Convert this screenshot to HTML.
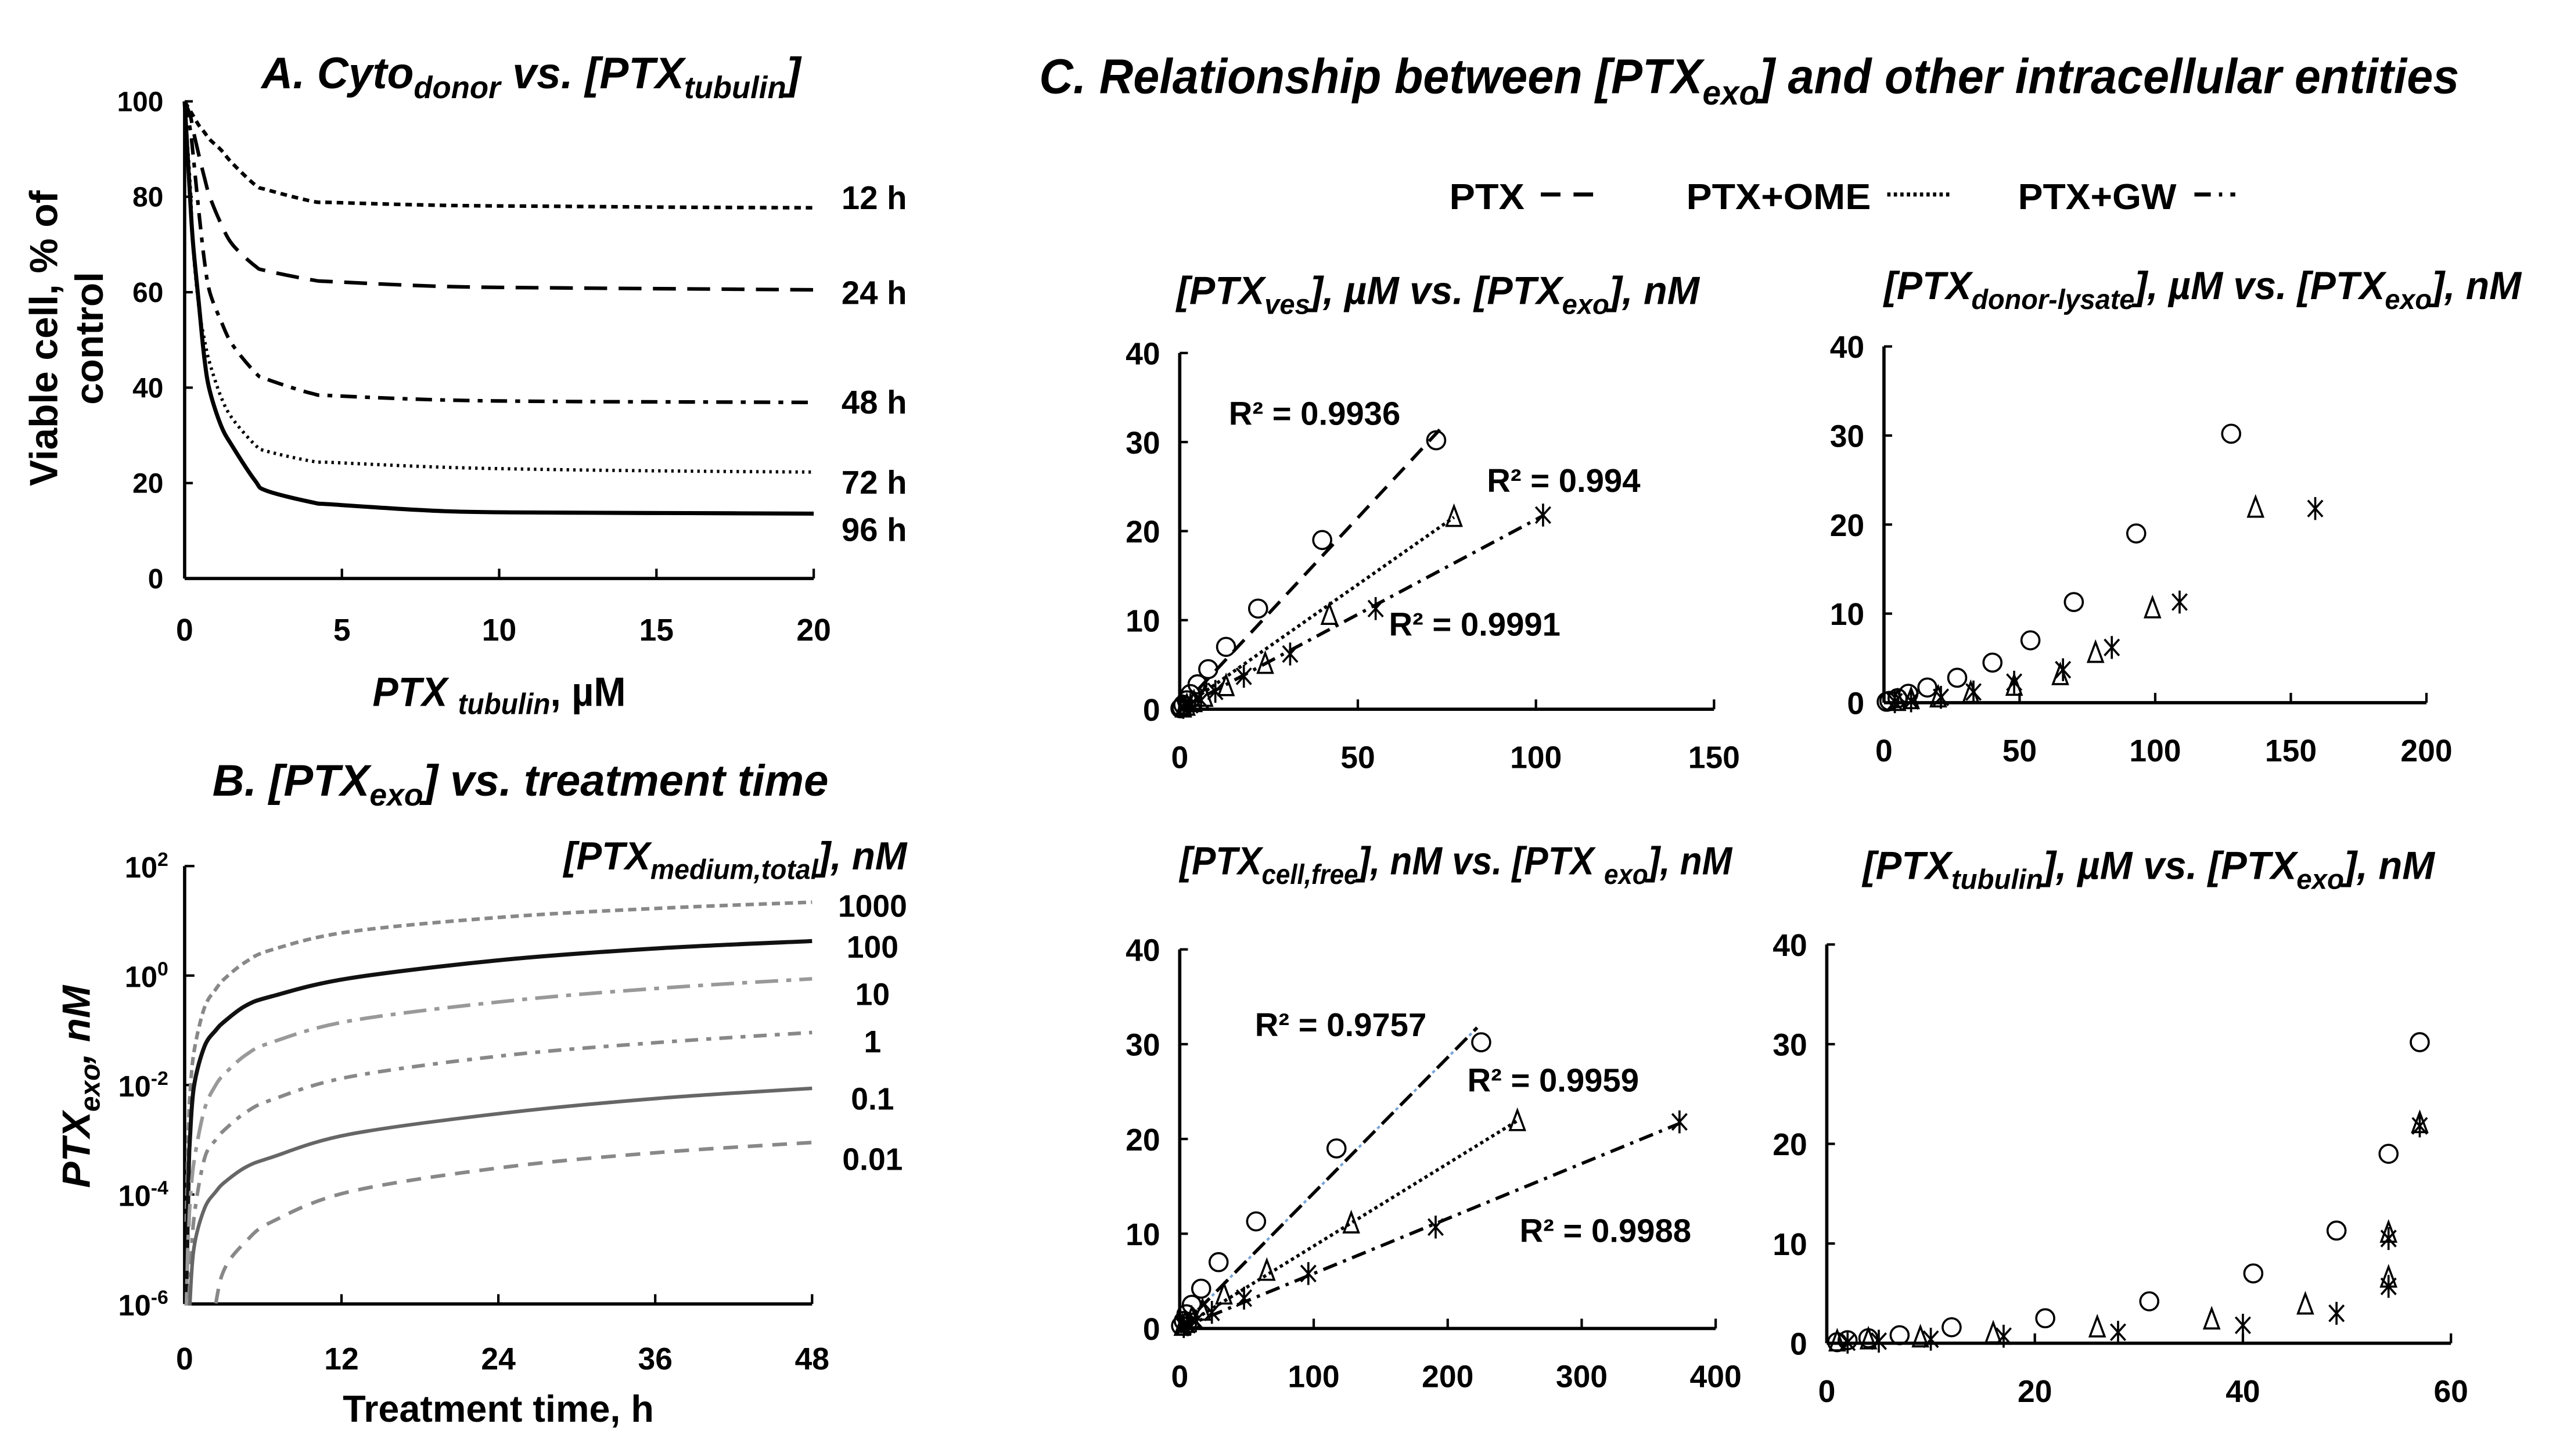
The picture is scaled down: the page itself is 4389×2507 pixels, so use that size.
<!DOCTYPE html>
<html><head><meta charset="utf-8"><style>
html,body{margin:0;padding:0;background:#fff;}
svg{display:block;}
text{font-family:"Liberation Sans",Arial,sans-serif;font-weight:bold;fill:#000;}
</style></head><body>
<svg id="fig" xmlns="http://www.w3.org/2000/svg" width="4389" height="2507" viewBox="0 0 1560 891">
<rect x="0" y="0" width="1560" height="891" fill="#fff"/>
<defs><clipPath id="clipB"><rect x="110" y="520" width="400" height="279"/></clipPath></defs>
<text x="160" y="54" font-size="27" font-style="italic" textLength="330" lengthAdjust="spacingAndGlyphs">A. Cyto<tspan dy="6" font-size="19">donor</tspan><tspan dy="-6"> vs. [PTX</tspan><tspan dy="6" font-size="19">tubulin</tspan><tspan dy="-6">]</tspan></text>
<g transform="translate(35,207) rotate(-90)"><text x="0" y="0" text-anchor="middle" font-size="24">Viable cell, % of</text><text x="0" y="28" text-anchor="middle" font-size="24">control</text></g>
<text x="228" y="432" font-size="25" textLength="155" lengthAdjust="spacingAndGlyphs"><tspan font-style="italic">PTX </tspan><tspan font-style="italic" font-size="18" dy="5">tubulin</tspan><tspan dy="-5">, µM</tspan></text>
<text x="130" y="487" font-size="27" font-style="italic" textLength="377" lengthAdjust="spacingAndGlyphs">B. [PTX<tspan dy="6" font-size="19">exo</tspan><tspan dy="-6">] vs. treatment time</tspan></text>
<text x="345" y="532" font-size="24" font-style="italic" textLength="210" lengthAdjust="spacingAndGlyphs">[PTX<tspan dy="6" font-size="17">medium,total</tspan><tspan dy="-6">], nM</tspan></text>
<text transform="translate(55,665) rotate(-90)" text-anchor="middle" font-size="24" font-style="italic">PTX<tspan dy="6" font-size="17">exo</tspan><tspan dy="-6">, nM</tspan></text>
<text x="305" y="870" text-anchor="middle" font-size="23">Treatment time, h</text>
<text x="636" y="57" font-size="30" font-style="italic" textLength="869" lengthAdjust="spacingAndGlyphs">C. Relationship between [PTX<tspan dy="7" font-size="21">exo</tspan><tspan dy="-7">] and other intracellular entities</tspan></text>
<g>
<text x="887" y="128" font-size="22" textLength="46" lengthAdjust="spacingAndGlyphs">PTX</text>
<line x1="943" y1="119" x2="980" y2="119" stroke="#000" stroke-width="2.5" stroke-dasharray="12,8"/>
<text x="1032" y="128" font-size="22" textLength="113" lengthAdjust="spacingAndGlyphs">PTX+OME</text>
<line x1="1155" y1="119" x2="1195" y2="119" stroke="#000" stroke-width="2.5" stroke-dasharray="2,2"/>
<text x="1235" y="128" font-size="22" textLength="97" lengthAdjust="spacingAndGlyphs">PTX+GW</text>
<line x1="1343" y1="119" x2="1368" y2="119" stroke="#000" stroke-width="2.5" stroke-dasharray="10,5,2,5"/>
</g>
<text x="720" y="186" font-size="24" font-style="italic" textLength="320" lengthAdjust="spacingAndGlyphs">[PTX<tspan dy="6" font-size="17">ves</tspan><tspan dy="-6">], µM vs. [PTX</tspan><tspan dy="6" font-size="17">exo</tspan><tspan dy="-6">], nM</tspan></text>
<text x="1153" y="183" font-size="24" font-style="italic" textLength="390" lengthAdjust="spacingAndGlyphs">[PTX<tspan dy="6" font-size="17">donor-lysate</tspan><tspan dy="-6">], µM vs. [PTX</tspan><tspan dy="6" font-size="17">exo</tspan><tspan dy="-6">], nM</tspan></text>
<text x="722" y="535" font-size="24" font-style="italic" textLength="338" lengthAdjust="spacingAndGlyphs">[PTX<tspan dy="6" font-size="17">cell,free</tspan><tspan dy="-6">], nM vs. [PTX </tspan><tspan dy="6" font-size="17">exo</tspan><tspan dy="-6">], nM</tspan></text>
<text x="1140" y="538" font-size="24" font-style="italic" textLength="350" lengthAdjust="spacingAndGlyphs">[PTX<tspan dy="6" font-size="17">tubulin</tspan><tspan dy="-6">], µM vs. [PTX</tspan><tspan dy="6" font-size="17">exo</tspan><tspan dy="-6">], nM</tspan></text>
<g id="marks"></g>
</svg>
<script>
// ---------- Panel A data ----------
const aX = [0,0.18,0.27,0.45,0.63,0.8,1.16,1.52,2.24,2.6,4.03,4.75,8.3,12,16,20];
const aLabels = ["12 h","24 h","48 h","72 h","96 h"];
const a12 = [100,98,97,95,93.5,92,89.8,87,82.5,81.5,79.1,78.8,78.2,78,77.8,77.7];
const a24 = [100,97,94,88.8,84,80,74.3,70,65.5,64.5,62.6,62.2,61.2,60.9,60.7,60.5];
const a48 = [100,94,88.8,77,66.5,60,53.9,49,43.2,41.8,38.8,38.3,37.4,37.1,37,36.9];
const a72 = [100,82,69.4,57,50,45.1,38,33.5,28,26.7,24.6,24.3,23.3,22.8,22.5,22.3];
const a96 = [100,79,70,57.8,46,39.3,32,27.7,20.5,18.4,16,15.5,14.1,13.8,13.7,13.6];
const aYTicks = [0,20,40,60,80,100];
const aXTicks = [0,5,10,15,20];
// ---------- Panel B data ----------
const bT = [0.12,0.24,0.32,0.4,0.71,1.51,2.38,3.09,4.68,6.66,12.6,24.5,36.4,48];
const bLabels = ["1000","100","10","1","0.1","0.01"];
const b1000 = [-4.5,-3.2,-2.6,-2.2,-1.4,-0.59,-0.25,-0.05,0.25,0.47,0.8,1.07,1.23,1.34];
const b100 = [-6,-4.4,-3.5,-3.0,-2.03,-1.3,-1.0,-0.83,-0.55,-0.38,-0.05,0.29,0.5,0.63];
const b10 = [-6.2,-5.0,-4.6,-4.2,-3.41,-2.45,-2.0,-1.79,-1.45,-1.22,-0.83,-0.47,-0.23,-0.06];
const b1 = [-7,-7,-6,-5.6,-4.44,-3.35,-3.0,-2.81,-2.5,-2.27,-1.85,-1.46,-1.22,-1.04];
const b01 = [-7,-7,-6.5,-6,-4.98,-4.26,-3.95,-3.77,-3.5,-3.32,-2.9,-2.51,-2.24,-2.06];
const b001 = [-8,-8,-8,-8,-8,-7.5,-6,-5.34,-4.86,-4.5,-3.95,-3.5,-3.23,-3.05];
const bYTicks = [2,0,-2,-4,-6];
const bXTicks = [0,12,24,36,48];
// ---------- Panel C data ----------
const c1PtxX = [72,40,22,13,8,5,3,2,1,0.5,0.2];
const c1PtxY = [30.2,19,11.3,7,4.5,2.8,1.7,1,0.5,0.2,0.1];
const c1OmeX = [77,42,24,13,7,4,2,1];
const c1OmeY = [21.5,10.5,5,2.5,1.3,0.7,0.3,0.1];
const c1GwX = [102,55,31,18,10,6,3,1];
const c1GwY = [21.8,11.3,6.2,3.7,2,1,0.5,0.2];
const c1TrendSlope = [0.43,0.28,0.213];
const c1TrendEnd = [73,77,102];
const c1R2 = ["R² = 0.9936","R² = 0.994","R² = 0.9991"];
const c2PtxX = [128,93,70,54,40,27,16,9,5,2,1];
const c2PtxY = [30.2,19,11.3,7,4.5,2.8,1.7,1,0.5,0.2,0.1];
const c2OmeX = [137,99,78,65,48,32,20,10,5];
const c2OmeY = [21.8,10.5,5.5,3,1.8,1,0.5,0.3,0.1];
const c2GwX = [159,109,84,66,48,33,21,10,4];
const c2GwY = [21.8,11.3,6.2,3.7,2.3,1.2,0.6,0.2,0.1];
const c3PtxX = [225,117,57,29,16,9,5,3,1];
const c3PtxY = [30.2,19,11.3,7,4.2,2.5,1.5,0.8,0.3];
const c3OmeX = [252,128,65,33,17,9,4,2];
const c3OmeY = [21.8,11,6,3.5,1.8,1,0.5,0.2];
const c3GwX = [373,191,96,48,24,12,6,3];
const c3GwY = [21.8,10.7,5.8,3.2,1.7,0.8,0.4,0.2];
const c3TrendSlope = [0.143,0.087,0.058];
const c3TrendEnd = [222,252,373];
const c3R2 = ["R² = 0.9757","R² = 0.9959","R² = 0.9988"];
const c4PtxX = [57,54,49,41,31,21,12,7,4,2,1];
const c4PtxY = [30.2,19,11.3,7,4.2,2.5,1.6,0.8,0.5,0.3,0.1];
const c4OmeX = [57,54,54,46,37,26,16,9,4,1];
const c4OmeY = [22,11,6.5,3.8,2.3,1.5,0.9,0.5,0.3,0.1];
const c4GwX = [57,54,54,49,40,28,17,10,5,2];
const c4GwY = [21.8,10.5,5.7,3,1.8,1.1,0.7,0.4,0.2,0.1];
const cYTicks = [0,10,20,30,40];
const c1XTicks = [0,50,100,150];
const c2XTicks = [0,50,100,150,200];
const c3XTicks = [0,100,200,300,400];
const c4XTicks = [0,20,40,60];

const NS = "http://www.w3.org/2000/svg";
const root = document.getElementById("marks");
function el(tag, attrs, parent){ const e=document.createElementNS(NS,tag); for(const k in attrs) e.setAttribute(k,attrs[k]); (parent||root).appendChild(e); return e; }
function txt(x,y,s,size,anchor,parent){ const t=el("text",{x:x,y:y,"font-size":size,"text-anchor":anchor||"start"},parent); t.textContent=s; return t; }
function smooth(pts){
  let d = "M"+pts[0][0].toFixed(2)+","+pts[0][1].toFixed(2);
  for(let i=0;i<pts.length-1;i++){
    const p0=pts[Math.max(0,i-1)], p1=pts[i], p2=pts[i+1], p3=pts[Math.min(pts.length-1,i+2)];
    const c1=[p1[0]+(p2[0]-p0[0])/6, p1[1]+(p2[1]-p0[1])/6];
    const c2=[p2[0]-(p3[0]-p1[0])/6, p2[1]-(p3[1]-p1[1])/6];
    d += " C"+c1[0].toFixed(2)+","+c1[1].toFixed(2)+" "+c2[0].toFixed(2)+","+c2[1].toFixed(2)+" "+p2[0].toFixed(2)+","+p2[1].toFixed(2);
  }
  return d;
}

// ===== Panel A =====
const xA = v => 113 + v/20*385;
const yA = v => 354 - v/100*292;
let ax = el("line",{x1:113,y1:354,x2:498,y2:354,stroke:"#000","stroke-width":2});


let ay = el("line",{x1:113,y1:62,x2:113,y2:354,stroke:"#000","stroke-width":2});


aYTicks.forEach(v=>{
  const t = txt(100, yA(v)+6, String(v), 17, "end");
  
  
  const m = el("line",{x1:113,y1:yA(v),x2:118,y2:yA(v),stroke:"#000","stroke-width":1.5});
  
  
});
aXTicks.forEach(v=>{
  const t = txt(xA(v), 392, String(v), 19, "middle");
  
  
  const m = el("line",{x1:xA(v),y1:354,x2:xA(v),y2:348,stroke:"#000","stroke-width":1.5});
  
  
});
const aSeries = [a12,a24,a48,a72,a96];
const aDash = ["4,3","14,7","10,5,3,5","1.5,2.5",""];
const aWidth = [2.2,2.2,2.2,2,2.5];
const aLabelY = [128,186,253,302,331];
aSeries.forEach((s,i)=>{
  const pts = aX.map((x,j)=>[xA(x), yA(s[j])]);
  const p = el("path",{d:smooth(pts),fill:"none",stroke:"#000","stroke-width":aWidth[i],"stroke-dasharray":aDash[i],"stroke-linejoin":"round"});
  
  
  const t = txt(515, aLabelY[i], aLabels[i], 20, "start");
  
  
});

// ===== Panel B =====
const xB = t => 113 + t/48*384;
const yB = lg => 530 + (2-lg)*33.5;
let bx = el("line",{x1:113,y1:798,x2:497,y2:798,stroke:"#000","stroke-width":2});


let by = el("line",{x1:113,y1:530,x2:113,y2:798,stroke:"#000","stroke-width":2});


bYTicks.forEach(v=>{
  const t = el("text",{x:103,y:yB(v)+7,"font-size":18,"text-anchor":"end"});
  t.innerHTML = '10<tspan dy="-7" font-size="12">'+v+'</tspan>';
  
  
  const m = el("line",{x1:113,y1:yB(v),x2:119,y2:yB(v),stroke:"#000","stroke-width":1.5});
  
  
});
bXTicks.forEach(v=>{
  const t = txt(xB(v), 838, String(v), 19, "middle");
  
  
  const m = el("line",{x1:xB(v),y1:798,x2:xB(v),y2:792,stroke:"#000","stroke-width":1.5});
  
  
});
const bSeries = [b1000,b100,b10,b1,b01,b001];
const bColor = ["#888","#111","#999","#888","#666","#888"];
const bDash = ["5,3","","14,5,3,5","8,5,3,5","","9,6"];
const bWidth = [2.2,2.5,2.2,2.2,2.2,2.2];
const bLabelY = [561,586,615,644,679,716];
const bg = el("g",{"clip-path":"url(#clipB)"});


bSeries.forEach((s,i)=>{
  const pts = bT.map((t,j)=>[xB(t), yB(s[j])]);
  const p = el("path",{d:smooth(pts),fill:"none",stroke:bColor[i],"stroke-width":bWidth[i],"stroke-dasharray":bDash[i],"stroke-linejoin":"round"},bg);
  
  
  const t = txt(534, bLabelY[i], bLabels[i], 19, "middle");
  
  
});

// ===== Panel C =====
function circle(g,x,y){ const c=el("circle",{cx:x,cy:y,r:5.5,fill:"none",stroke:"#000","stroke-width":1.3},g);   }
function tri(g,x,y){ const p=el("polygon",{points:`${x},${y-7} ${x-4.5},${y+5} ${x+4.5},${y+5}`,fill:"none",stroke:"#000","stroke-width":1.3},g);   }
function star(g,x,y){ const p=el("path",{d:`M${x},${y-7}V${y+7}M${x-4.5},${y-5}L${x+4.5},${y+5}M${x+4.5},${y-5}L${x-4.5},${y+5}`,fill:"none",stroke:"#000","stroke-width":1.3},g);   }

function subplot(cfg){
  const g = el("g",{});
  
  
  const X = v => cfg.x0 + v*cfg.sx;
  const Y = v => cfg.y0 - v*cfg.sy;
  const xa = el("line",{x1:cfg.x0,y1:cfg.y0,x2:X(cfg.xt[cfg.xt.length-1]),y2:cfg.y0,stroke:"#000","stroke-width":2},g);
  
  
  const ya = el("line",{x1:cfg.x0,y1:Y(40),x2:cfg.x0,y2:cfg.y0,stroke:"#000","stroke-width":2},g);
  
  
  cYTicks.forEach(v=>{
    const t = txt(cfg.x0-12, Y(v)+7, String(v), 19, "end", g);
    
    
    const m = el("line",{x1:cfg.x0,y1:Y(v),x2:cfg.x0+5,y2:Y(v),stroke:"#000","stroke-width":1.5},g);
    
    
  });
  cfg.xt.forEach(v=>{
    const t = txt(X(v), cfg.y0+36, String(v), 19, "middle", g);
    
    
    const m = el("line",{x1:X(v),y1:cfg.y0,x2:X(v),y2:cfg.y0-6,stroke:"#000","stroke-width":1.5},g);
    
    
  });
  if(cfg.slope){
    const dashes = ["10,6","2,2","9,4,2,4"];
    const names = ["ptx-trendline","ptx-ome-trendline","ptx-gw-trendline"];
    cfg.slope.forEach((s,i)=>{
      if(i===0 && cfg.blue){
        const b = el("line",{x1:X(0),y1:Y(0),x2:X(cfg.tend[i]),y2:Y(s*cfg.tend[i]),stroke:"#7aa6d8","stroke-width":1.5,"stroke-dasharray":"2,2"},g);
        
        
      }
      const l = el("line",{x1:X(0),y1:Y(0),x2:X(cfg.tend[i]),y2:Y(s*cfg.tend[i]),stroke:"#000","stroke-width":2,"stroke-dasharray":dashes[i]},g);
      
      
    });
    cfg.r2.forEach((s,i)=>{
      const t = txt(cfg.r2pos[i][0], cfg.r2pos[i][1], s, 20, "start", g);
      
      
    });
  }
  cfg.px.forEach((v,i)=>circle(g,X(v),Y(cfg.py[i])));
  cfg.ox.forEach((v,i)=>tri(g,X(v),Y(cfg.oy[i])));
  cfg.gx.forEach((v,i)=>star(g,X(v),Y(cfg.gy[i])));
}
subplot({name:"c1-ves-chart",x0:722,y0:434,sx:109/50,sy:5.45,xt:c1XTicks,px:c1PtxX,py:c1PtxY,ox:c1OmeX,oy:c1OmeY,gx:c1GwX,gy:c1GwY,slope:c1TrendSlope,tend:c1TrendEnd,r2:c1R2,r2pos:[[752,260],[910,301],[850,389]]});
subplot({name:"c2-donor-lysate-chart",x0:1153,y0:430,sx:83/50,sy:5.45,xt:c2XTicks,px:c2PtxX,py:c2PtxY,ox:c2OmeX,oy:c2OmeY,gx:c2GwX,gy:c2GwY});
subplot({name:"c3-cell-free-chart",x0:722,y0:813,sx:0.82,sy:5.8,xt:c3XTicks,px:c3PtxX,py:c3PtxY,ox:c3OmeX,oy:c3OmeY,gx:c3GwX,gy:c3GwY,slope:c3TrendSlope,tend:c3TrendEnd,r2:c3R2,r2pos:[[768,634],[898,668],[930,760]],blue:true});
subplot({name:"c4-tubulin-chart",x0:1118,y0:822,sx:382/60,sy:6.1,xt:c4XTicks,px:c4PtxX,py:c4PtxY,ox:c4OmeX,oy:c4OmeY,gx:c4GwX,gy:c4GwY});
</script>
</body></html>
